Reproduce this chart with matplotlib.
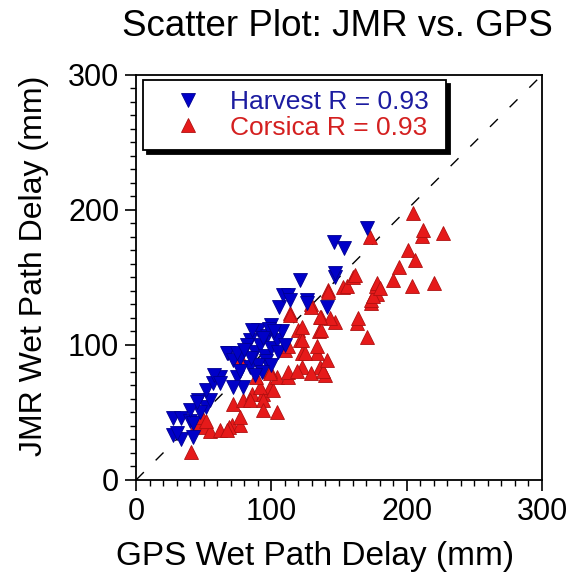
import numpy as np
import matplotlib
matplotlib.use("Agg")
import matplotlib.pyplot as plt
from matplotlib.ticker import MultipleLocator

plt.rcParams['font.family'] = ['Liberation Sans', 'DejaVu Sans']

# Harvest platform: GPS vs JMR wet path delay (mm)
harvest_gps = [27, 33, 42, 30, 27, 33, 40, 42, 46, 52, 47, 40, 45, 55, 52, 57, 62, 58,
               62, 68, 67, 72, 77, 84, 75, 79, 72, 77, 75, 84, 90, 97, 86, 82, 88, 92,
               95, 100, 104, 108, 96, 90, 85, 100, 105, 110, 80, 93, 106, 109, 112, 121,
               126, 126, 141, 147, 147, 146, 154, 171, 100, 88, 114, 98, 102, 94]
harvest_jmr = [33, 30, 32, 35, 46, 46, 44, 42, 59, 54, 50, 52, 58, 59, 67, 72, 76, 78,
               72, 94, 94, 89, 90, 84, 76, 69, 69, 81, 94, 104, 111, 107, 111, 100, 95, 100,
               92, 98, 104, 110, 88, 85, 90, 85, 95, 100, 96, 80, 128, 137, 137, 148,
               133, 131, 128, 150, 153, 176, 172, 187, 115, 78, 133, 112, 110, 105]

# Corsica platform
corsica_gps = [41, 45, 51, 55, 62, 71, 77, 69, 67, 49, 52, 72, 79, 86, 94, 99, 92, 101,
               84, 94, 104, 77, 94, 104, 112, 99, 89, 99, 112, 123, 136, 129, 140, 119,
               138, 141, 123, 134, 110, 125, 120, 121, 112, 134, 123, 123, 135, 137, 137,
               147, 143, 163, 171, 164, 114, 114, 129, 129, 136, 142, 142, 153, 156, 160,
               162, 174, 174, 178, 175, 177, 178, 180, 173, 190, 194, 201, 206, 204, 220,
               211, 212, 227, 205, 77]
corsica_jmr = [21, 42, 39, 36, 37, 41, 41, 39, 37, 47, 44, 56, 59, 64, 64, 69, 69, 67,
               59, 59, 50, 47, 52, 76, 76, 81, 76, 79, 80, 84, 84, 79, 78, 81,
               81, 89, 94, 94, 96, 94, 111, 104, 99, 99, 104, 113, 110, 111, 121,
               117, 120, 116, 106, 120, 124, 122, 130, 128, 121, 141, 139, 143, 144, 150,
               152, 131, 133, 138, 136, 144, 146, 142, 180, 148, 158, 170, 163, 144, 146,
               181, 185, 183, 198, 91]

harvest_label = 'Harvest R = 0.93'
corsica_label = 'Corsica R = 0.93'

blue = '#0000c8'
red = '#e61a1a'

fig = plt.figure(figsize=(5.69, 5.83), dpi=100)
ax = fig.add_axes([0.239, 0.1767, 0.7135, 0.6947])

ax.plot([0, 300], [0, 300], color='black', lw=1, dashes=(8, 12), zorder=1)

ax.plot(corsica_gps, corsica_jmr, linestyle='none', marker='^', ms=10.5,
        color=red, mec='#b01010', mew=0.6, label=corsica_label, zorder=2)
ax.plot(harvest_gps, harvest_jmr, linestyle='none', marker='v', ms=10.5,
        color=blue, mec='#000090', mew=0.6, label=harvest_label, zorder=3)

ax.set_xlim(0, 300)
ax.set_ylim(0, 300)
ax.xaxis.set_major_locator(MultipleLocator(100))
ax.yaxis.set_major_locator(MultipleLocator(100))
ax.xaxis.set_minor_locator(MultipleLocator(10))
ax.yaxis.set_minor_locator(MultipleLocator(10))
ax.tick_params(which='major', direction='out', length=8, width=1.2, labelsize=22, pad=4)
ax.tick_params(which='minor', direction='out', length=4, width=1)
for s in ax.spines.values():
    s.set_linewidth(1.3)

ax.set_xlabel('GPS Wet Path Delay (mm)', fontsize=24)
ax.set_ylabel('JMR Wet Path Delay (mm)', fontsize=23)
ax.xaxis.set_label_coords(0.441, -0.15)
ax.yaxis.set_label_coords(-0.215, 0.53)
fig.text(0.972, 0.955, 'Scatter Plot: JMR vs. GPS', fontsize=26.5, ha='right', va='center')

handles, labels = ax.get_legend_handles_labels()
leg = ax.legend(handles[::-1], labels[::-1], loc='upper left', mode='expand',
                bbox_to_anchor=(0.017, 0.5, 0.746, 0.488), borderaxespad=0, fontsize=19,
                fancybox=False, edgecolor='black', framealpha=1,
                shadow={'color': 'black', 'alpha': 1, 'ox': 3, 'oy': -3},
                handletextpad=0.3, labelspacing=0.05, borderpad=0.4, handlelength=2.6)
leg.get_frame().set_linewidth(1.3)
leg.texts[0].set_color('#1c1ca0')
leg.texts[1].set_color('#d42020')

fig.savefig('out.png', dpi=100)
